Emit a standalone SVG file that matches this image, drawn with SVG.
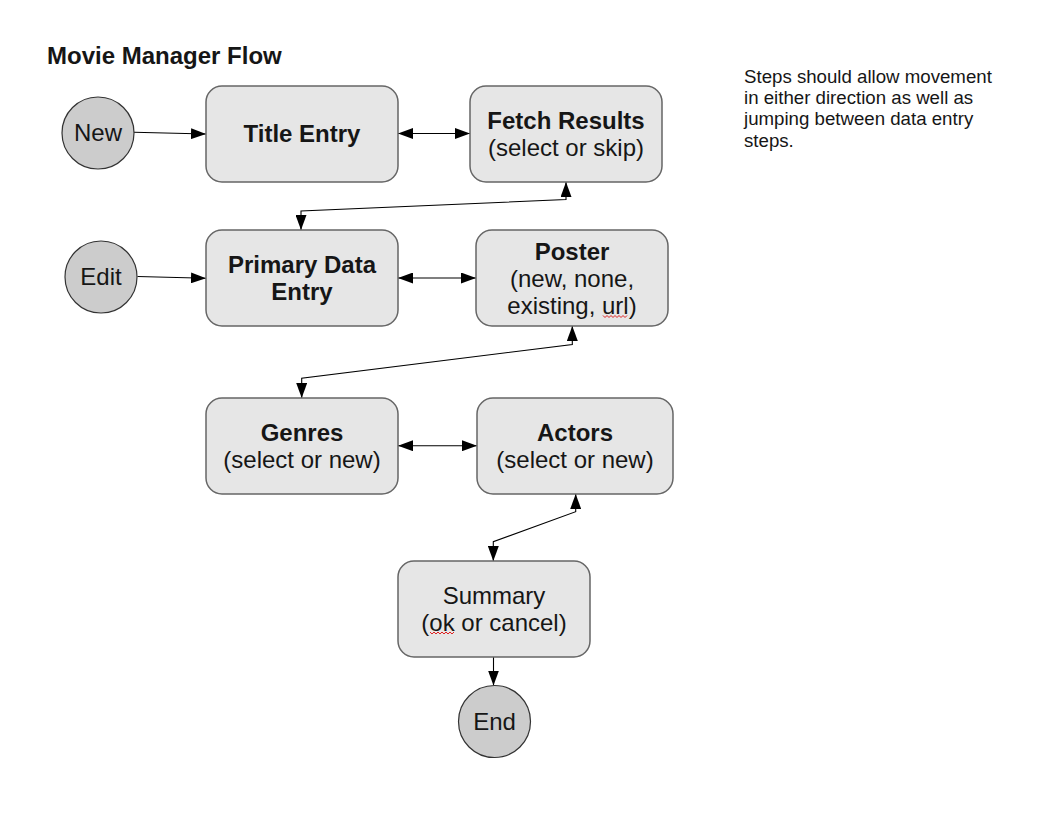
<svg xmlns="http://www.w3.org/2000/svg" width="1056" height="816" viewBox="0 0 1056 816">
  <style>
    text { font-family: "Liberation Sans", Arial, sans-serif; fill: #161616; }
    .title { font-size: 24px; font-weight: bold; }
    .lbl { font-size: 24px; text-anchor: middle; }
    .b { font-weight: bold; }
    .note { font-size: 18.67px; }
    .box { fill: #e6e6e6; stroke: #666666; stroke-width: 1.5; }
    .term { fill: #cccccc; stroke: #333333; stroke-width: 1.2; }
    .conn { fill: none; stroke: #000000; stroke-width: 1.1; }
    .spell { fill: none; stroke: #e02020; stroke-width: 1; }
  </style>
  <defs>
    <marker id="arr" viewBox="0 0 15 11" refX="15" refY="5.5" markerWidth="15" markerHeight="11" markerUnits="userSpaceOnUse" orient="auto-start-reverse">
      <path d="M0,0 L15,5.5 L0,11 Z" fill="#000000"/>
    </marker>
  </defs>
  <rect width="1056" height="816" fill="#ffffff"/>

  <text class="title" x="47" y="64">Movie Manager Flow</text>

  <g id="note">
    <text class="note" x="744" y="82.7">Steps should allow movement</text>
    <text class="note" x="744" y="104">in either direction as well as</text>
    <text class="note" x="744" y="125.3">jumping between data entry</text>
    <text class="note" x="744" y="146.6">steps.</text>
  </g>

  <g id="connectors">
    <path class="conn" d="M134,132.3 L206,134" marker-end="url(#arr)"/>
    <path class="conn" d="M137.5,276.5 L206,278.3" marker-end="url(#arr)"/>
    <path class="conn" d="M398,133.5 L470,133.5" marker-start="url(#arr)" marker-end="url(#arr)"/>
    <path class="conn" d="M398,278 L476,278" marker-start="url(#arr)" marker-end="url(#arr)"/>
    <path class="conn" d="M398,445.7 L477,445.7" marker-start="url(#arr)" marker-end="url(#arr)"/>
    <path class="conn" d="M566,182 L566,199.5 L301,211 L301,230" marker-start="url(#arr)" marker-end="url(#arr)"/>
    <path class="conn" d="M572.3,326 L572.3,344.5 L301.7,378.3 L301.7,398" marker-start="url(#arr)" marker-end="url(#arr)"/>
    <path class="conn" d="M575.7,494 L575.7,511.7 L493.3,541.7 L493.3,561" marker-start="url(#arr)" marker-end="url(#arr)"/>
    <path class="conn" d="M493.5,657 L493.5,685.5" marker-end="url(#arr)"/>
  </g>

  <g id="new">
    <circle class="term" cx="98" cy="133" r="36"/>
    <text class="lbl" x="98" y="141.3">New</text>
  </g>

  <g id="edit">
    <circle class="term" cx="101" cy="277" r="36"/>
    <text class="lbl" x="101" y="285.3">Edit</text>
  </g>

  <g id="title-entry">
    <rect class="box" x="206" y="86" width="192" height="96" rx="16" ry="16"/>
    <text class="lbl b" x="302" y="141.5">Title Entry</text>
  </g>

  <g id="fetch-results">
    <rect class="box" x="470" y="86" width="192" height="96" rx="16" ry="16"/>
    <text class="lbl b" x="566" y="129">Fetch Results</text>
    <text class="lbl" x="566" y="155.5">(select or skip)</text>
  </g>

  <g id="primary-data-entry">
    <rect class="box" x="206" y="230" width="192" height="96" rx="16" ry="16"/>
    <text class="lbl b" x="302" y="273">Primary Data</text>
    <text class="lbl b" x="302" y="300">Entry</text>
  </g>

  <g id="poster">
    <rect class="box" x="476" y="230" width="192" height="96" rx="16" ry="16"/>
    <text class="lbl b" x="572" y="259.5">Poster</text>
    <text class="lbl" x="572" y="286.5">(new, none,</text>
    <text class="lbl" x="572" y="313.5">existing, url)</text>
    <path class="spell" d="M603,315.5 l2,2 l2,-2 l2,2 l2,-2 l2,2 l2,-2 l2,2 l2,-2 l2,2 l2,-2 l2,2 l2,-2"/>
  </g>

  <g id="genres">
    <rect class="box" x="206" y="398" width="192" height="96" rx="16" ry="16"/>
    <text class="lbl b" x="302" y="440.7">Genres</text>
    <text class="lbl" x="302" y="467.5">(select or new)</text>
  </g>

  <g id="actors">
    <rect class="box" x="477" y="398" width="196" height="96" rx="16" ry="16"/>
    <text class="lbl b" x="575" y="440.7">Actors</text>
    <text class="lbl" x="575" y="467.5">(select or new)</text>
  </g>

  <g id="summary">
    <rect class="box" x="398" y="561" width="192" height="96" rx="16" ry="16"/>
    <text class="lbl" x="494" y="603.7">Summary</text>
    <text class="lbl" x="494" y="630.5">(ok or cancel)</text>
    <path class="spell" d="M430,632 l2,2 l2,-2 l2,2 l2,-2 l2,2 l2,-2 l2,2 l2,-2 l2,2 l2,-2 l2,2 l2,-2"/>
  </g>

  <g id="end">
    <circle class="term" cx="494.5" cy="721.5" r="36"/>
    <text class="lbl" x="494.5" y="730">End</text>
  </g>
</svg>
